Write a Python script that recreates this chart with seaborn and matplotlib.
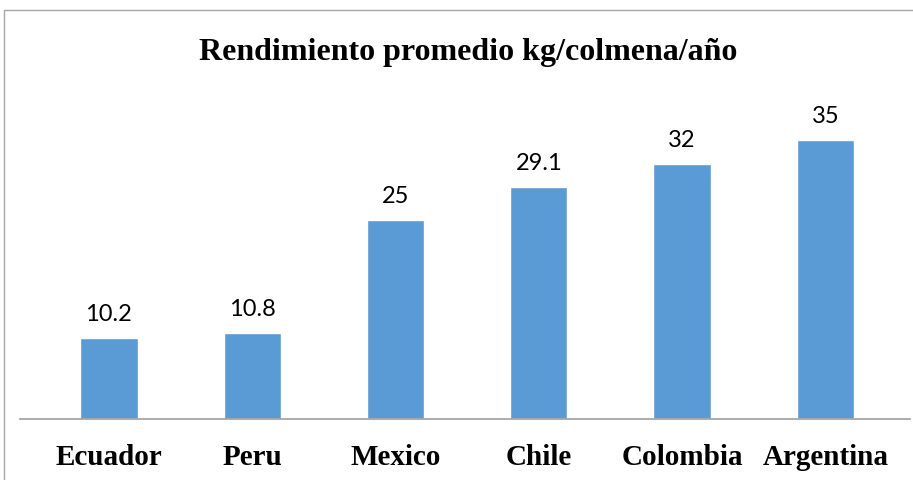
import matplotlib
matplotlib.use("Agg")
import matplotlib.pyplot as plt
import seaborn as sns
import pandas as pd
from matplotlib.patches import Rectangle

countries = ["Ecuador", "Peru", "Mexico", "Chile", "Colombia", "Argentina"]
values = [10.2, 10.8, 25, 29.1, 32, 35]
value_labels = ["10.2", "10.8", "25", "29.1", "32", "35"]
title = "Rendimiento promedio kg/colmena/año"

df = pd.DataFrame({"country": countries, "value": values})

sns.set_style("white")
W, H = 913, 481
fig = plt.figure(figsize=(W / 100, H / 100), dpi=100)

# outer chart border (only top and left visible in the reference)
fig.patches.append(Rectangle((4 / W, 0 - 0.05), 1.2, (H - 11) / H + 0.05,
                             transform=fig.transFigure, fill=False,
                             edgecolor="#a6a6a6", linewidth=1.0))

ax = fig.add_axes([20 / W, 61 / H, 890 / W, 319 / H])
sns.barplot(data=df, x="country", y="value", color="#5b9bd5", width=0.40,
            saturation=1, ax=ax)

ax.set_xlim(-0.62, 5.59)
ax.set_ylim(0, 40)
ax.set_yticks([])
ax.set_xlabel("")
ax.set_ylabel("")
for s in ["top", "right", "left"]:
    ax.spines[s].set_visible(False)
ax.spines["bottom"].set_color("#a6a6a6")
ax.spines["bottom"].set_linewidth(1.3)
ax.tick_params(axis="x", length=0, pad=17)
for lbl in ax.get_xticklabels():
    lbl.set_fontfamily("Liberation Serif")
    lbl.set_fontweight("bold")
    lbl.set_fontsize(21)
    lbl.set_color("black")

for i, (v, t) in enumerate(zip(values, value_labels)):
    ax.annotate(t, (i, v), xytext=(0, 13), textcoords="offset points",
                ha="center", va="baseline", fontsize=17, family="Lato",
                color="black")

fig.text(468 / W, 1 - 60 / H, title, ha="center", va="baseline",
         fontfamily="Liberation Serif", fontweight="bold", fontsize=23,
         color="black")

fig.savefig("out.png", dpi=100)
